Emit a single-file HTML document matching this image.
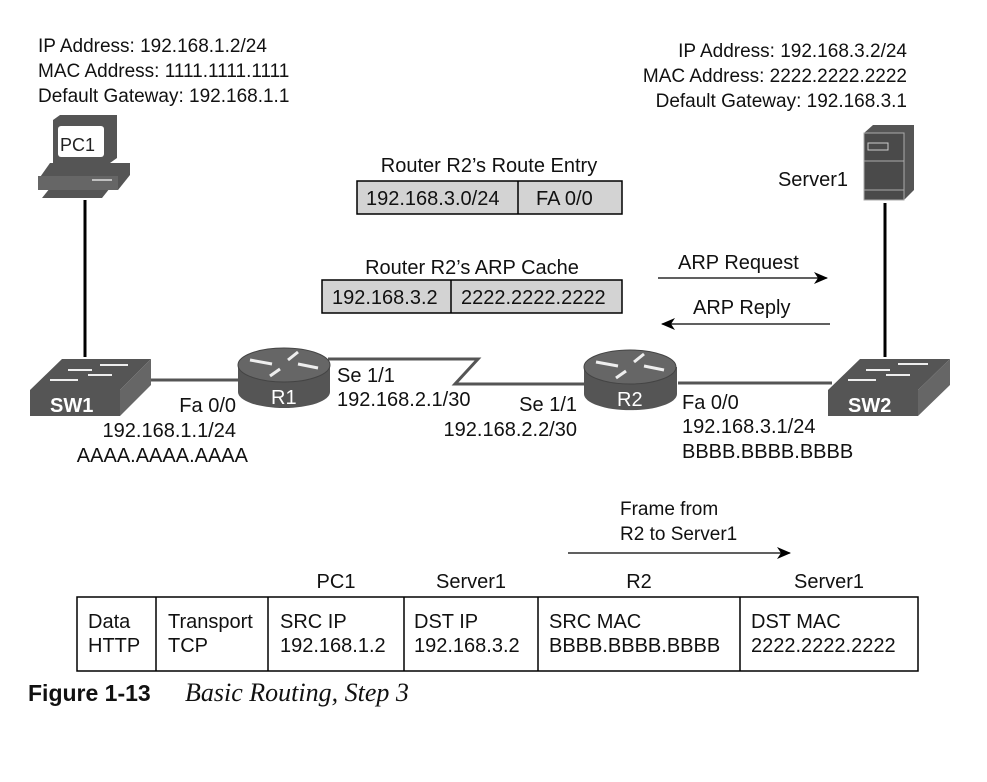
<!DOCTYPE html>
<html><head><meta charset="utf-8"><style>
html,body{margin:0;padding:0;background:#fff;}
svg{display:block;}
text{font-family:"Liberation Sans",sans-serif;font-size:20px;fill:#111;}
</style></head><body>
<svg width="987" height="782" viewBox="0 0 987 782" xmlns="http://www.w3.org/2000/svg">
<defs>
<marker id="ah" markerWidth="14" markerHeight="12" refX="13" refY="6" orient="auto" markerUnits="userSpaceOnUse">
<path d="M0,0 L14,6 L0,12 L4,6 Z" fill="#000"/></marker>
</defs>
<!-- top left text -->
<text x="38" y="52" style="font-size:19px">IP Address: 192.168.1.2/24</text>
<text x="38" y="77" style="font-size:19px">MAC Address: 1111.1111.1111</text>
<text x="38" y="102" style="font-size:19px">Default Gateway: 192.168.1.1</text>
<!-- top right text -->
<text x="907" y="57" text-anchor="end" style="font-size:19px">IP Address: 192.168.3.2/24</text>
<text x="907" y="82" text-anchor="end" style="font-size:19px">MAC Address: 2222.2222.2222</text>
<text x="907" y="107" text-anchor="end" style="font-size:19px">Default Gateway: 192.168.3.1</text>

<!-- links -->
<line x1="85" y1="200" x2="85" y2="357" stroke="#000" stroke-width="3"/>
<line x1="885" y1="203" x2="885" y2="357" stroke="#000" stroke-width="3"/>
<line x1="150" y1="380" x2="240" y2="380" stroke="#555" stroke-width="3"/>
<polyline points="328,359 478,359 455,384 585,384" fill="none" stroke="#555" stroke-width="3"/>
<line x1="678" y1="383" x2="832" y2="383" stroke="#555" stroke-width="3"/>

<!-- PC1 -->
<g fill="#555">
<path d="M53,120 L60,115 L117,115 L117,158 L110,163 L53,163 Z"/>
<rect x="58" y="126" width="46" height="31" rx="3" fill="#fff"/>
<path d="M38,180 L50,163 L130,163 L130,175 L118,190 L38,190 Z"/>
<path d="M42,198 L50,188 L110,188 L102,198 Z"/>
</g>
<rect x="38" y="176" width="80" height="14" fill="#666"/>
<line x1="92" y1="180" x2="112" y2="180" stroke="#ddd" stroke-width="1.5"/>
<text x="60" y="151" style="font-size:18px;fill:#222">PC1</text>

<!-- Server1 -->
<path d="M864,133 L873,125 L914,125 L914,190 L904,200 L864,200 Z" fill="#555"/>
<rect x="864" y="133" width="40" height="67" fill="#4a4a4a" stroke="#aaa" stroke-width="1"/>
<rect x="868" y="143" width="20" height="7" fill="none" stroke="#ccc" stroke-width="1"/>
<line x1="864" y1="161" x2="904" y2="161" stroke="#aaa"/>
<line x1="864" y1="190" x2="904" y2="190" stroke="#aaa"/>
<text x="848" y="186" text-anchor="end">Server1</text>

<!-- SW1 -->
<path d="M30,390 L62,359 L151,359 L120,390 Z" fill="#555"/>
<path d="M120,390 L151,359 L151,385 L120,416 Z" fill="#666"/>
<rect x="30" y="390" width="90" height="26" fill="#555"/>
<g stroke="#eee" stroke-width="2"><line x1="68" y1="370" x2="92" y2="370"/><line x1="100" y1="365" x2="128" y2="365"/><line x1="50" y1="380" x2="78" y2="380"/><line x1="88" y1="375" x2="112" y2="375"/></g>
<text x="50" y="412" style="fill:#fff;font-weight:bold">SW1</text>

<!-- SW2 -->
<path d="M828,390 L860,359 L950,359 L918,390 Z" fill="#555"/>
<path d="M918,390 L950,359 L950,385 L918,416 Z" fill="#666"/>
<rect x="828" y="390" width="90" height="26" fill="#555"/>
<g stroke="#eee" stroke-width="2"><line x1="866" y1="370" x2="890" y2="370"/><line x1="898" y1="364" x2="928" y2="364"/><line x1="848" y1="380" x2="876" y2="380"/><line x1="886" y1="375" x2="910" y2="375"/></g>
<text x="848" y="412" style="fill:#fff;font-weight:bold">SW2</text>

<!-- R1 -->
<path d="M238,365 L238,392 A46,16 0 0 0 330,392 L330,365 Z" fill="#555"/>
<ellipse cx="284" cy="365" rx="46" ry="17" fill="#666" stroke="#444"/>
<g stroke="#eee" stroke-width="3"><line x1="250" y1="360" x2="272" y2="364"/><line x1="298" y1="352" x2="288" y2="360"/><line x1="318" y1="368" x2="298" y2="364"/><line x1="270" y1="376" x2="280" y2="369"/></g>
<text x="271" y="404" style="fill:#fff">R1</text>

<!-- R2 -->
<path d="M584,367 L584,394 A46,16 0 0 0 677,394 L677,367 Z" fill="#555"/>
<ellipse cx="630" cy="367" rx="46" ry="17" fill="#666" stroke="#444"/>
<g stroke="#eee" stroke-width="3"><line x1="596" y1="362" x2="618" y2="366"/><line x1="644" y1="354" x2="634" y2="362"/><line x1="664" y1="370" x2="644" y2="366"/><line x1="616" y1="378" x2="626" y2="371"/></g>
<text x="617" y="406" style="fill:#fff">R2</text>

<!-- interface labels -->
<text x="236" y="412" text-anchor="end">Fa 0/0</text>
<text x="236" y="437" text-anchor="end">192.168.1.1/24</text>
<text x="248" y="462" text-anchor="end">AAAA.AAAA.AAAA</text>
<text x="337" y="382">Se 1/1</text>
<text x="337" y="406">192.168.2.1/30</text>
<text x="577" y="411" text-anchor="end">Se 1/1</text>
<text x="577" y="436" text-anchor="end">192.168.2.2/30</text>
<text x="682" y="409">Fa 0/0</text>
<text x="682" y="433">192.168.3.1/24</text>
<text x="682" y="458">BBBB.BBBB.BBBB</text>

<!-- Route entry -->
<text x="489" y="172" text-anchor="middle">Router R2’s Route Entry</text>
<rect x="357" y="181" width="265" height="33" fill="#d3d3d3" stroke="#000" stroke-width="1.5"/>
<line x1="518" y1="181" x2="518" y2="214" stroke="#000" stroke-width="1.5"/>
<text x="366" y="205">192.168.3.0/24</text>
<text x="536" y="205">FA 0/0</text>

<!-- ARP cache -->
<text x="472" y="274" text-anchor="middle">Router R2’s ARP Cache</text>
<rect x="322" y="280" width="300" height="33" fill="#d3d3d3" stroke="#000" stroke-width="1.5"/>
<line x1="451" y1="280" x2="451" y2="313" stroke="#000" stroke-width="1.5"/>
<text x="332" y="304">192.168.3.2</text>
<text x="461" y="304">2222.2222.2222</text>

<!-- ARP arrows -->
<text x="678" y="269">ARP Request</text>
<line x1="658" y1="278" x2="827" y2="278" stroke="#000" stroke-width="1.2" marker-end="url(#ah)"/>
<text x="693" y="314">ARP Reply</text>
<line x1="830" y1="324" x2="662" y2="324" stroke="#000" stroke-width="1.2" marker-end="url(#ah)"/>

<!-- frame label -->
<text x="620" y="515" style="font-size:19px">Frame from</text>
<text x="620" y="540" style="font-size:19px">R2 to Server1</text>
<line x1="568" y1="553" x2="790" y2="553" stroke="#000" stroke-width="1.2" marker-end="url(#ah)"/>

<text x="336" y="588" text-anchor="middle">PC1</text>
<text x="471" y="588" text-anchor="middle">Server1</text>
<text x="639" y="588" text-anchor="middle">R2</text>
<text x="829" y="588" text-anchor="middle">Server1</text>

<!-- bottom table -->
<rect x="77" y="597" width="841" height="74" fill="#fff" stroke="#000" stroke-width="1.5"/>
<g stroke="#000" stroke-width="1.5">
<line x1="156" y1="597" x2="156" y2="671"/><line x1="268" y1="597" x2="268" y2="671"/>
<line x1="404" y1="597" x2="404" y2="671"/><line x1="538" y1="597" x2="538" y2="671"/>
<line x1="740" y1="597" x2="740" y2="671"/></g>
<text x="88" y="628">Data</text><text x="88" y="652">HTTP</text>
<text x="168" y="628">Transport</text><text x="168" y="652">TCP</text>
<text x="280" y="628">SRC IP</text><text x="280" y="652">192.168.1.2</text>
<text x="414" y="628">DST IP</text><text x="414" y="652">192.168.3.2</text>
<text x="549" y="628">SRC MAC</text><text x="549" y="652">BBBB.BBBB.BBBB</text>
<text x="751" y="628">DST MAC</text><text x="751" y="652">2222.2222.2222</text>

<!-- caption -->
<text x="28" y="701" style="font-weight:bold;font-size:23px">Figure 1-13</text>
<text x="185" y="701" style="font-family:'Liberation Serif',serif;font-style:italic;font-size:26px">Basic Routing, Step 3</text>
</svg>
</body></html>
